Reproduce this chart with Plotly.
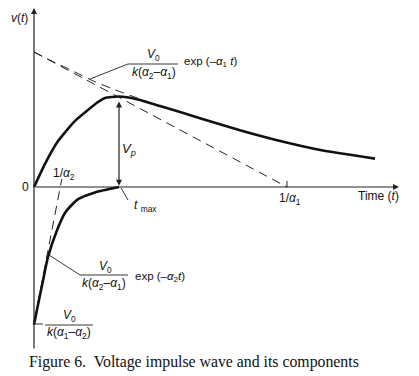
import plotly.graph_objects as go

# ---- data (t in arbitrary time units, v normalised so V0/k(a2-a1) = 1) ----
inv_alpha1 = 10.0
inv_alpha2 = 1.05

t_wave = [0, 0.43, 0.95, 1.62, 2.53, 2.81, 3.36, 4.07, 4.98, 6.56, 8.14, 9.53, 11.42, 13.48]
v_wave = [0, 0.17, 0.34, 0.49, 0.63, 0.66, 0.67, 0.65, 0.60, 0.51, 0.42, 0.35, 0.27, 0.21]

t_comp1 = [0, 0.63, 1.42, 2.29, 3.20, 4.07, 4.98, 6.56]
v_comp1 = [1.0, 0.94, 0.87, 0.79, 0.72, 0.66, 0.60, 0.51]

t_comp2 = [0, 0.16, 0.36, 0.55, 0.91, 1.23, 1.74, 2.41, 3.36]
v_comp2 = [-1.02, -0.87, -0.69, -0.52, -0.32, -0.19, -0.09, -0.04, 0]

t_tan1 = [0, inv_alpha1]
v_tan1 = [1.0, 0.0]
t_tan2 = [0.04, inv_alpha2 + 0.05]
v_tan2 = [-0.97, 0.06]

t_max = 3.36
v_peak = 0.65

# ---- geometry helpers (reference pixel -> data) ----
W, H = 419, 376
PAD = 8  # page body margin around the plot div
OX, OY = 34, 187
SX, SY = 25.3, 135.0


def P(px, py):
    return ((px - OX) / SX, (OY - py) / SY)


FONT = "Liberation Sans, Arial, sans-serif"
fig = go.Figure()

dash = "9px,6px"
fig.add_trace(go.Scatter(x=t_tan1, y=v_tan1, mode="lines",
                         line=dict(color="#222", width=1, dash=dash), hoverinfo="skip"))
fig.add_trace(go.Scatter(x=t_comp1, y=v_comp1, mode="lines",
                         line=dict(color="#222", width=1, dash=dash, shape="spline", smoothing=0.6),
                         hoverinfo="skip"))
fig.add_trace(go.Scatter(x=t_tan2, y=v_tan2, mode="lines",
                         line=dict(color="#222", width=1, dash=dash), hoverinfo="skip"))
fig.add_trace(go.Scatter(x=t_wave, y=v_wave, mode="lines",
                         line=dict(color="#111", width=2.6, shape="spline", smoothing=0.45),
                         hoverinfo="skip"))
fig.add_trace(go.Scatter(x=t_comp2, y=v_comp2, mode="lines",
                         line=dict(color="#111", width=2.6, shape="spline", smoothing=0.6),
                         hoverinfo="skip"))

ann = []
shapes = []


def arrow(tip, tail, both=False):
    ann.append(dict(x=tip[0], y=tip[1], ax=tail[0], ay=tail[1], xref="x", yref="y",
                    axref="x", ayref="y", showarrow=True, arrowhead=2, arrowsize=1,
                    arrowwidth=1.2, arrowcolor="#222", text="",
                    arrowside="end+start" if both else "end", startarrowhead=2))


def line(p0, p1, w=0.9):
    shapes.append(dict(type="line", xref="x", yref="y", x0=p0[0], y0=p0[1],
                       x1=p1[0], y1=p1[1], line=dict(color="#222", width=w)))


def text(s, p, size=11, font=FONT, xanchor="center"):
    ann.append(dict(x=p[0], y=p[1], xref="x", yref="y", text=s, showarrow=False,
                    font=dict(family=font, size=size, color="#111"), xanchor=xanchor,
                    yanchor="middle"))


# axes
arrow(P(34, 8), P(34, 350))
arrow(P(399, 187), P(34, 187))
# 1/alpha1 tick
line((inv_alpha1, 0), (inv_alpha1, 0.045), 1)
# Vp arrow
arrow((t_max, 0.01), (t_max, v_peak - 0.005), both=True)
# t_max leader
line(P(121, 188), P(128, 200))
# upper leader + fraction bar
line(P(90, 79), P(128, 64))
line(P(128, 64), P(178, 64))
# lower leader + fraction bar
line(P(49, 255), P(80, 275))
line(P(80, 275), P(128, 275))
# bottom tick + bar
line(P(34, 324), P(43, 324))
line(P(45, 325), P(93, 325))

text("<i>v</i>(<i>t</i>)", P(19, 18), size=12)
text("0", P(25, 187), size=12)
text("1/<i>α</i><sub>2</sub>", P(64, 174), size=12)
text("1/<i>α</i><sub>1</sub>", P(290, 199), size=12)
text("Time (<i>t</i>)", P(378, 196), size=12)
text("<i>V</i><sub><i>p</i></sub>", P(129, 149), size=13)
text("<i>t</i> <sub>max</sub>", P(145, 206), size=12)

text("<i>V</i><sub>0</sub>", P(153, 55), size=12)
text("<i>k</i>(<i>α</i><sub>2</sub>–<i>α</i><sub>1</sub>)", P(154, 73), size=12)
text("exp (–<i>α</i><sub>1</sub> <i>t</i>)", P(182, 62), size=11.5, xanchor="left")

text("<i>V</i><sub>0</sub>", P(105, 267), size=12)
text("<i>k</i>(<i>α</i><sub>2</sub>–<i>α</i><sub>1</sub>)", P(104, 284), size=12)
text("exp (–<i>α</i><sub>2</sub><i>t</i>)", P(133, 277), size=11.5, xanchor="left")

text("<i>V</i><sub>0</sub>", P(69, 316), size=12)
text("<i>k</i>(<i>α</i><sub>1</sub>–<i>α</i><sub>2</sub>)", P(69, 333), size=12)

text("Figure 6.  Voltage impulse wave and its components", P(194, 362), size=15.8,
     font="Liberation Serif, Times New Roman, serif")

# plot div sits PAD px inside the page: map its own pixel frame
x0, y0 = P(PAD, H)
x1, y1 = P(W, PAD)
fig.update_layout(
    width=W - PAD, height=H - PAD, margin=dict(l=0, r=0, t=0, b=0),
    paper_bgcolor="white", plot_bgcolor="white", showlegend=False,
    xaxis=dict(range=[x0, x1], visible=False, fixedrange=True),
    yaxis=dict(range=[y0, y1], visible=False, fixedrange=True),
    annotations=ann, shapes=shapes,
)
fig.write_html("out.html")
